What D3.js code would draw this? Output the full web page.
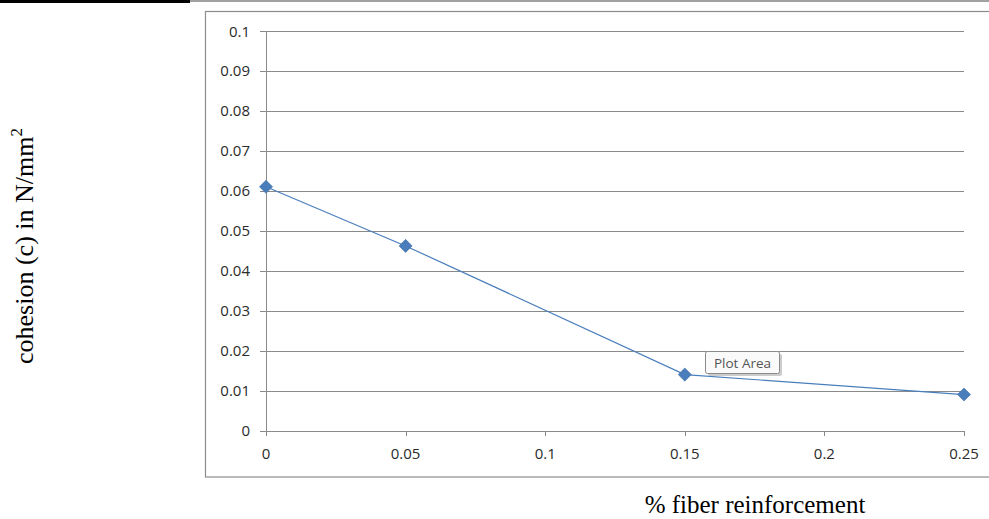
<!DOCTYPE html>
<html><head><meta charset="utf-8">
<script src="https://cdn.jsdelivr.net/npm/d3@7"></script>
<style>body{margin:0;background:#fff}svg{display:block}</style>
</head><body>
<svg id="c" width="989" height="519"></svg>
<script>
const xValues = [0, 0.05, 0.15, 0.25];
const cohesion = [0.061, 0.0462, 0.014, 0.009];
const xTicks = [0, 0.05, 0.1, 0.15, 0.2, 0.25];
const yTicks = [0, 0.01, 0.02, 0.03, 0.04, 0.05, 0.06, 0.07, 0.08, 0.09, 0.1];
const xTitle = "% fiber reinforcement";
const yTitle = "cohesion (c) in N/mm";

const svg = d3.select("#c");
const x = d3.scaleLinear().domain([0, 0.25]).range([266, 964]);
const y = d3.scaleLinear().domain([0, 0.1]).range([430.5, 31]);
const fontT = "'Open Sans', sans-serif";
const fontS = "'Liberation Serif','Times New Roman',serif";

// top decorative lines
svg.append("rect").attr("x",0).attr("y",0).attr("width",190).attr("height",3).attr("fill","#000");
svg.append("line").attr("x1",190).attr("x2",989).attr("y1",1).attr("y2",1).attr("stroke","#444").attr("stroke-width",1);

// chart border
svg.append("rect").attr("x",205.5).attr("y",11.5).attr("width",800).attr("height",465.5)
  .attr("fill","none").attr("stroke","#8c8c8c").attr("stroke-width",1.2);

// gridlines
svg.append("g").selectAll("line").data(yTicks).join("line")
  .attr("x1",260).attr("x2",964).attr("y1",d=>Math.round(y(d))+0.5).attr("y2",d=>Math.round(y(d))+0.5)
  .attr("stroke","#8a8a8a").attr("stroke-width",1);

// y axis line
svg.append("line").attr("x1",266.5).attr("x2",266.5).attr("y1",31).attr("y2",436)
  .attr("stroke","#8a8a8a");
// x tick marks
svg.append("g").selectAll("line").data(xTicks).join("line")
  .attr("x1",d=>Math.round(x(d))+0.5).attr("x2",d=>Math.round(x(d))+0.5)
  .attr("y1",431).attr("y2",436).attr("stroke","#8a8a8a");

// y tick labels
svg.append("g").selectAll("text").data(yTicks).join("text")
  .attr("x",250).attr("y",d=>y(d)+5.5).attr("text-anchor","end")
  .attr("font-family",fontT).attr("font-size",15).attr("fill","#2b2b2b")
  .text(d=>d3.format("")(+d.toFixed(2)));
// x tick labels
svg.append("g").selectAll("text").data(xTicks).join("text")
  .attr("x",d=>x(d)).attr("y",459).attr("text-anchor","middle")
  .attr("font-family",fontT).attr("font-size",15).attr("fill","#2b2b2b")
  .text(d=>d3.format("")(+d.toFixed(2)));

// series line
const pts = xValues.map((v,i)=>[v,cohesion[i]]);
svg.append("path").datum(pts)
  .attr("d", d3.line().x(d=>x(d[0])).y(d=>y(d[1])))
  .attr("fill","none").attr("stroke","#4a7ebb").attr("stroke-width",1.2);
svg.append("g").selectAll("path").data(pts).join("path")
  .attr("transform",d=>`translate(${x(d[0])},${y(d[1])})`)
  .attr("d", d3.symbol().type(d3.symbolDiamond2).size(110))
  .attr("fill","#4a7ebb").attr("stroke","#3f6fa8").attr("stroke-width",0.6);

// "Plot Area" tooltip
const tip = svg.append("g");
tip.append("rect").attr("x",708).attr("y",354).attr("width",74).attr("height",22).attr("rx",2)
  .attr("fill","#9a9a9a").attr("opacity",0.5);
tip.append("rect").attr("x",705.5).attr("y",351.5).attr("width",74).attr("height",22).attr("rx",2)
  .attr("fill","#fafafa").attr("stroke","#8a8a8a");
tip.append("text").attr("x",742.5).attr("y",367.5).attr("text-anchor","middle")
  .attr("font-family",fontT).attr("font-size",13.5).attr("fill","#555").text("Plot Area");

// axis titles
svg.append("text").attr("x",755).attr("y",513).attr("text-anchor","middle")
  .attr("font-family",fontS).attr("font-size",25).attr("fill","#000")
  .text(xTitle);
const yt = svg.append("text").attr("transform","translate(33,246) rotate(-90)").attr("text-anchor","middle")
  .attr("font-family",fontS).attr("font-size",26).attr("fill","#000");
yt.append("tspan").text(yTitle);
yt.append("tspan").attr("dy",-11).attr("font-size",17).text("2");
</script>
</body></html>
